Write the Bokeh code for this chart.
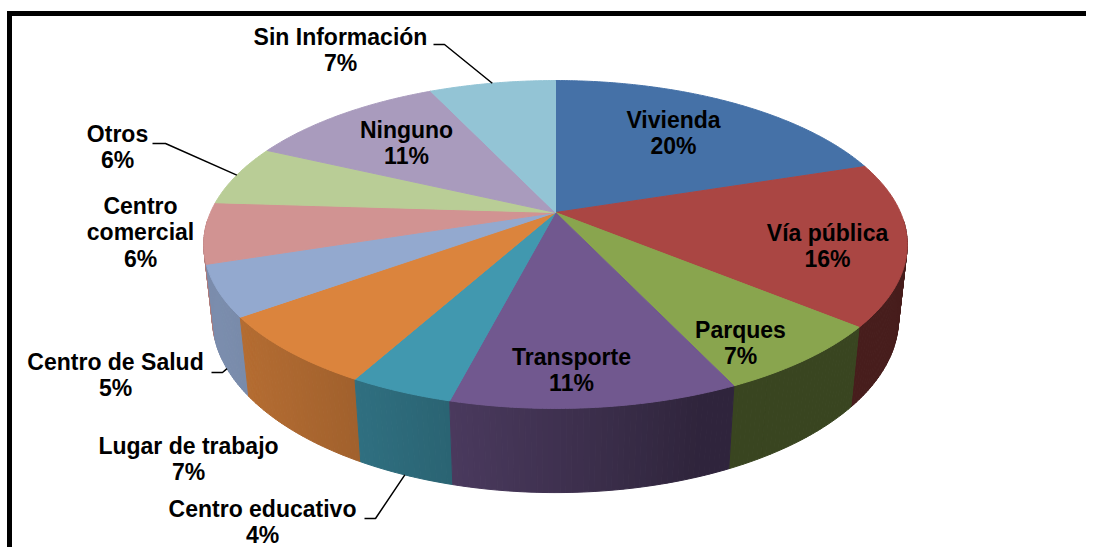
import numpy as np
from bokeh.plotting import figure
from bokeh.models import Range1d
from bokeh.core.properties import value
from bokeh.embed import file_html
from bokeh.resources import INLINE

# ---------------- data ----------------
categories = ["Vivienda", "Vía pública", "Parques", "Transporte", "Centro educativo",
              "Lugar de trabajo", "Centro de Salud", "Centro comercial", "Otros",
              "Ninguno", "Sin Información"]
percents = [20, 16, 7, 11, 4, 7, 5, 6, 6, 11, 7]
colors = ["#4571A7", "#AA4643", "#89A54E", "#71588F", "#4198AF", "#DB843D",
          "#93A9CF", "#D19392", "#B9CD96", "#A99BBD", "#93C4D5"]

# ---------------- layout ----------------
W, H = 1086, 547
CX, CY = 555.0, 212.0          # screen position of pie centre
ALPHA = np.radians(27.2)        # elevation
DIST = 4.558                    # camera distance (radius units)
FOC = 345.0 * DIST              # focal scale
DEPTH = 0.243                   # thickness (radius units)
FONT_PX = 23
LINE_GAP = 26.8
TEXT_DY = -9.0                  # renderer baseline correction

# label anchor: (centre x, first baseline y, lines of the name)
label_layout = {
    "Vivienda": (673, 128, ["Vivienda"]),
    "Vía pública": (827, 241, ["Vía pública"]),
    "Parques": (740, 338, ["Parques"]),
    "Transporte": (571, 365, ["Transporte"]),
    "Centro educativo": (262, 517, ["Centro educativo"]),
    "Lugar de trabajo": (188, 454, ["Lugar de trabajo"]),
    "Centro de Salud": (115, 370, ["Centro de Salud"]),
    "Centro comercial": (140, 214, ["Centro", "comercial"]),
    "Otros": (117, 142, ["Otros"]),
    "Ninguno": (406, 138, ["Ninguno"]),
    "Sin Información": (340, 45, ["Sin Información"]),
}
# leader lines: start point, kink x, which rim to hit
leader_layout = {
    "Sin Información": (433, 44, 444, "top"),
    "Otros": (152, 143, 165, "top"),
    "Centro de Salud": (211, 372, 222, "bottom"),
    "Centro educativo": (364, 518, 375, "bottom"),
}

sa, ca = np.sin(ALPHA), np.cos(ALPHA)


def proj(phi_deg, hgt, r=1.0):
    ph = np.radians(phi_deg)
    u = np.sin(ph) * r
    w = np.cos(ph) * r
    den = DIST + w * ca - hgt * sa
    X = CX + FOC * u / den
    Y = CY - FOC * (w * sa + hgt * ca) / den
    return X, Y


def shade(hexc, f):
    h = hexc.lstrip("#")
    r, g, b = (int(h[i:i + 2], 16) for i in (0, 2, 4))
    return "#%02x%02x%02x" % (int(min(255, r * f)), int(min(255, g * f)), int(min(255, b * f)))


vals = np.array(percents, dtype=float)
ends = np.cumsum(vals) / vals.sum() * 360.0
starts = np.concatenate([[0.0], ends[:-1]])

p = figure(width=W, height=H, x_range=Range1d(0, W), y_range=Range1d(H, 0),
           output_backend="svg", toolbar_location=None, min_border=0,
           x_axis_location=None, y_axis_location=None)
p.grid.visible = False
p.outline_line_color = None
p.background_fill_color = "white"
p.border_fill_color = "white"

# ---- sides ----
quads = []
for i, c in enumerate(colors):
    a0, a1 = starts[i], ends[i]
    n = max(2, int(np.ceil((a1 - a0) / 0.8)))
    ph = np.linspace(a0, a1, n + 1)
    for j in range(n):
        p0, p1 = ph[j], ph[j + 1]
        pm = 0.5 * (p0 + p1)
        cm = np.cos(np.radians(pm))
        if cm > -0.05:
            continue
        x0, y0 = proj(p0, 0.0)
        x1, y1 = proj(p1, 0.0)
        x2, y2 = proj(p1, -DEPTH)
        x3, y3 = proj(p0, -DEPTH)
        f = 0.42 + 0.42 * max(0.0, np.cos(np.radians(pm - 250.0)))
        quads.append((cm, [x0, x1, x2, x3], [y0, y1, y2, y3], shade(c, f)))
quads.sort(key=lambda q: -q[0])
p.patches([q[1] for q in quads], [q[2] for q in quads],
          fill_color=[q[3] for q in quads], line_color=[q[3] for q in quads], line_width=1)

# ---- top slices ----
txs, tys = [], []
for i in range(len(categories)):
    ph = np.linspace(starts[i], ends[i], max(3, int((ends[i] - starts[i]) * 2)))
    xs, ys = proj(ph, 0.0)
    txs.append([CX] + list(xs))
    tys.append([CY] + list(ys))
p.patches(txs, tys, fill_color=colors, line_color=colors, line_width=1)

# ---- leader lines ----
lxs, lys = [], []
for name, (sx, sy, kx, rim) in leader_layout.items():
    i = categories.index(name)
    mid = 0.5 * (starts[i] + ends[i])
    ex, ey = proj(mid, 0.0 if rim == "top" else -DEPTH)
    lxs.append([sx, kx, float(ex)])
    lys.append([sy, sy, float(ey)])
p.multi_line(lxs, lys, line_color="black", line_width=1.5)

# ---- labels ----
tx, ty, tt = [], [], []
for i, name in enumerate(categories):
    cx, by, lines = label_layout[name]
    lines = lines + ["%d%%" % percents[i]]
    for k, ln in enumerate(lines):
        tx.append(cx)
        ty.append(by + k * LINE_GAP + TEXT_DY)
        tt.append(ln)
p.text(x=tx, y=ty, text=tt, text_font=value("Liberation Sans"), text_font_style="bold",
       text_font_size="%dpx" % FONT_PX, text_align="center", text_baseline="alphabetic",
       text_color="black")

# ---- frame ----
p.line(x=[9, 9, W + 5], y=[H + 5, 13, 13], line_color="black", line_width=5,
       line_join="miter")

open("out.html", "w").write(file_html(p, INLINE))
